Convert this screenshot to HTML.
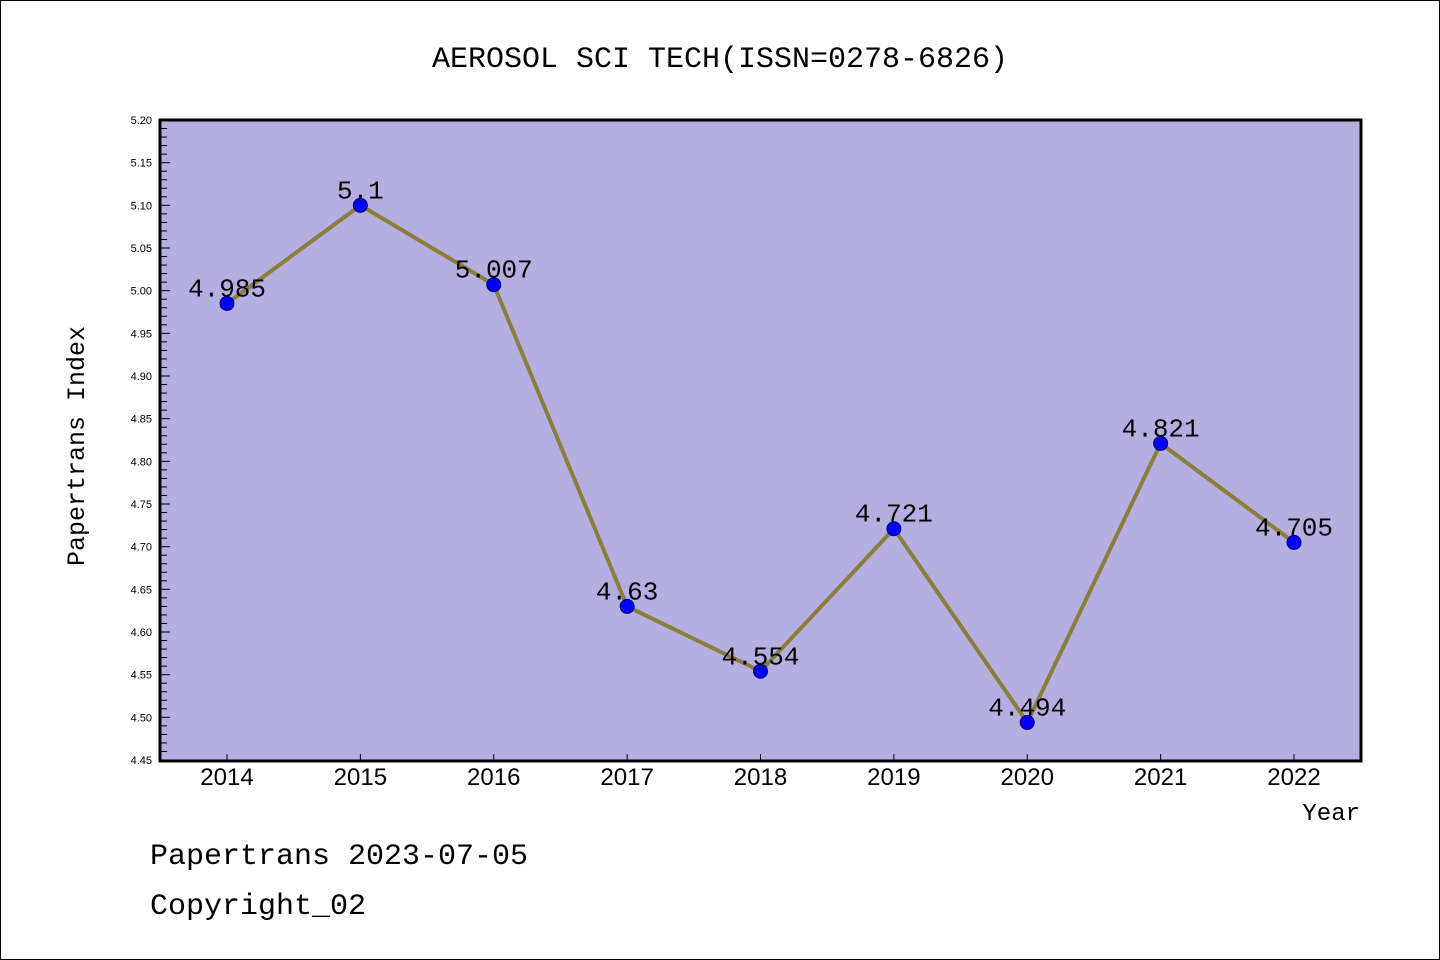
<!DOCTYPE html>
<html><head><meta charset="utf-8"><style>
html,body{margin:0;padding:0;background:#fff}
svg{display:block}
</style></head><body>
<svg width="1440" height="960" xmlns="http://www.w3.org/2000/svg">
<rect x="0.5" y="0.5" width="1439" height="959" fill="#fff" stroke="#000" stroke-width="1"/>
<text x="720" y="67" text-anchor="middle" font-family="Liberation Mono, monospace" font-size="30" fill="#000">AEROSOL SCI TECH(ISSN=0278-6826)</text>
<rect x="160" y="120" width="1201" height="641" fill="#b5aee1"/>
<g id="axes"></g>
<g id="series"></g>
<rect x="160" y="120" width="1201" height="641" fill="none" stroke="#000" stroke-width="3"/>
<text transform="translate(84,446) rotate(-90)" text-anchor="middle" font-family="Liberation Mono, monospace" font-size="25" fill="#000">Papertrans Index</text>
<text x="1360" y="820" text-anchor="end" font-family="Liberation Mono, monospace" font-size="24" fill="#000">Year</text>
<text x="150" y="864" font-family="Liberation Mono, monospace" font-size="30" fill="#000">Papertrans 2023-07-05</text>
<text x="150" y="914" font-family="Liberation Mono, monospace" font-size="30" fill="#000">Copyright_02</text>
</svg>
<script>
const years = ["2014","2015","2016","2017","2018","2019","2020","2021","2022"];
const values = [4.985, 5.1, 5.007, 4.63, 4.554, 4.721, 4.494, 4.821, 4.705];
const valueLabels = ["4.985","5.1","5.007","4.63","4.554","4.721","4.494","4.821","4.705"];
const yTicks = ["4.45","4.50","4.55","4.60","4.65","4.70","4.75","4.80","4.85","4.90","4.95","5.00","5.05","5.10","5.15","5.20"];

const NS = "http://www.w3.org/2000/svg";
const yMin = 4.45, yMax = 5.20, plotTop = 120, plotBot = 760, plotLeft = 160, plotRight = 1361;
function yScale(v){ return plotBot - (v - yMin) / (yMax - yMin) * (plotBot - plotTop); }
function xScale(i){ return 227 + i * (1294 - 227) / (years.length - 1); }
function mk(tag, attrs, parent){ const e = document.createElementNS(NS, tag); for (const k in attrs) e.setAttribute(k, attrs[k]); parent.appendChild(e); return e; }

const axesG = document.getElementById('axes');
const seriesG = document.getElementById('series');

yTicks.forEach((t) => {
  const v = parseFloat(t), y = yScale(v);
  const tl = mk('line', {x1: plotLeft, x2: plotLeft + 10, y1: y, y2: y, stroke: '#000', 'stroke-width': 1}, axesG);
  
  
  const lb = mk('text', {x: plotLeft - 8, y: y + 4, 'text-anchor': 'end', 'font-family': 'Liberation Sans, sans-serif', 'font-size': 11, fill: '#000'}, axesG);
  lb.textContent = t;
  
  
});
for (let i = 0; i < yTicks.length - 1; i++) {
  const v0 = parseFloat(yTicks[i]), v1 = parseFloat(yTicks[i + 1]);
  for (let k = 1; k < 5; k++) {
    const y = yScale(v0 + (v1 - v0) * k / 5);
    const ml = mk('line', {x1: plotLeft, x2: plotLeft + 7, y1: y, y2: y, stroke: '#000', 'stroke-width': 1}, axesG);
    
    
  }
}
years.forEach((yr, i) => {
  const x = xScale(i);
  const tl = mk('line', {x1: x, x2: x, y1: plotBot, y2: plotBot - 6, stroke: '#000', 'stroke-width': 1}, axesG);
  
  
  const lb = mk('text', {x: x, y: 785, 'text-anchor': 'middle', 'font-family': 'Liberation Sans, sans-serif', 'font-size': 24, fill: '#000'}, axesG);
  lb.textContent = yr;
  
  
});

const pts = values.map((v, i) => xScale(i) + ',' + yScale(v)).join(' ');
const line = mk('polyline', {points: pts, fill: 'none', stroke: '#8b7d3a', 'stroke-width': 4, 'stroke-linejoin': 'round'}, seriesG);


values.forEach((v, i) => {
  const c = mk('circle', {cx: xScale(i), cy: yScale(v), r: 7, fill: '#0000ff', stroke: '#00006a', 'stroke-width': 1}, seriesG);
  
  
});
values.forEach((v, i) => {
  const t = mk('text', {x: xScale(i), y: yScale(v) - 7, 'text-anchor': 'middle', 'font-family': 'Liberation Mono, monospace', 'font-size': 26, fill: '#000'}, seriesG);
  t.textContent = valueLabels[i];
  
  
});
</script>
</body></html>
